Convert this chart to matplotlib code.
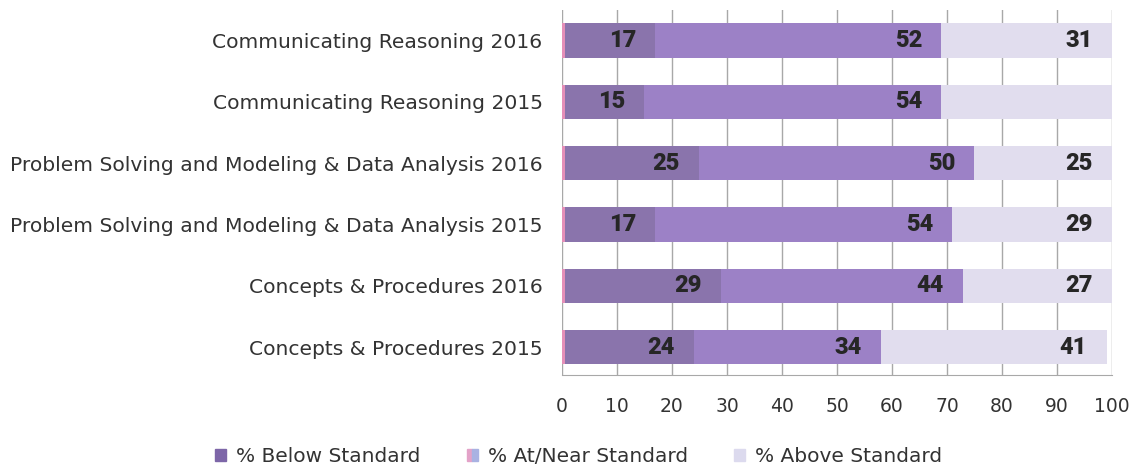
import matplotlib.pyplot as plt
from matplotlib.patches import Patch
from matplotlib.legend_handler import HandlerTuple

categories = [
    "Concepts & Procedures 2015",
    "Concepts & Procedures 2016",
    "Problem Solving and Modeling & Data Analysis 2015",
    "Problem Solving and Modeling & Data Analysis 2016",
    "Communicating Reasoning 2015",
    "Communicating Reasoning 2016",
]
below = [24, 29, 17, 25, 15, 17]
near = [34, 44, 54, 50, 54, 52]
above = [41, 27, 29, 25, 31, 31]
show_above = [True, True, True, True, False, True]
xticks = [0, 10, 20, 30, 40, 50, 60, 70, 80, 90, 100]

c_below = "#8a74ac"
c_near = "#9c81c6"
c_above = "#e1ddee"
c_edge = "#e58fb8"
txt = "#333333"

plt.rcParams['font.family'] = ['DejaVu Sans']

fig = plt.figure(figsize=(11.39, 4.68), dpi=100)
ax = fig.add_axes([0.4934, 0.199, 0.4829, 0.78])

y = list(range(len(categories)))
h = 0.56
left_near = [b for b in below]
left_above = [b + n for b, n in zip(below, near)]

ax.barh(y, below, height=h, color=c_below, zorder=2)
ax.barh(y, near, left=left_near, height=h, color=c_near, zorder=2)
ax.barh(y, above, left=left_above, height=h, color=c_above, zorder=2)
# thin pink strip at the start of each bar
ax.barh(y, [0.5] * len(y), height=h, color=c_edge, zorder=3)

for i in y:
    ends = [below[i], left_above[i], left_above[i] + above[i]]
    vals = [below[i], near[i], above[i]]
    for k, (e, v) in enumerate(zip(ends, vals)):
        if k == 2 and not show_above[i]:
            continue
        ax.annotate(str(v), (e, i), xytext=(-14, 0), textcoords="offset points",
                    ha="right", va="center", fontsize=17, fontweight="heavy",
                    color="#262626", family=["Roboto", "DejaVu Sans"],
                    zorder=4)

ax.set_xlim(0, 100)
ax.set_ylim(-0.45, 5.5)
ax.set_xticks(xticks)
ax.set_yticks(y)
ax.set_yticklabels(categories, fontsize=14.6, color=txt)
ax.tick_params(axis="x", labelsize=13.5, colors=txt, length=0, pad=16)
ax.tick_params(axis="y", length=0, pad=14)
ax.grid(axis="x", color="#a8a8a8", linewidth=1, zorder=1)
for s in ["top", "right", "left"]:
    ax.spines[s].set_visible(False)
ax.spines["bottom"].set_color("#a8a8a8")

handles = [Patch(color="#7d66a8"),
           (Patch(color="#e3a2c8"), Patch(color="#a9b2e2")),
           Patch(color="#dcdaee")]
labels = ["% Below Standard", "% At/Near Standard", "% Above Standard"]
fig.legend(handles, labels, loc="lower center", ncol=3, frameon=False,
           fontsize=14.5, bbox_to_anchor=(0.508, -0.035), handlelength=0.55,
           handleheight=0.55, handletextpad=0.5, columnspacing=2.3,
           labelcolor=txt, handler_map={tuple: HandlerTuple(ndivide=None, pad=0)})

fig.savefig("out.png", dpi=100)
